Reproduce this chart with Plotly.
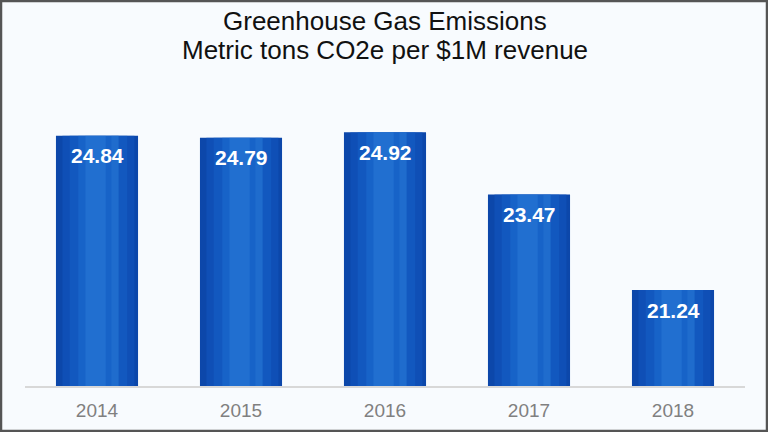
import plotly.graph_objects as go

years = ["2014", "2015", "2016", "2017", "2018"]
emissions = [24.84, 24.79, 24.92, 23.47, 21.24]
labels = ["24.84", "24.79", "24.92", "23.47", "21.24"]

fig = go.Figure()

# base bar, dark blue
fig.add_trace(go.Bar(x=years, y=emissions, width=0.57,
                     marker=dict(color="#0c47aa", line=dict(width=0)),
                     hoverinfo="skip"))
# lighter layers towards the middle to fake the horizontal gradient
layers = [(0.50, -0.24, "rgba(18,85,190,0.6)"),
          (0.40, -0.19, "rgba(22,98,200,0.5)"),
          (0.28, -0.13, "rgba(30,112,210,0.45)"),
          (0.14, -0.08, "rgba(50,130,220,0.4)"),
          (0.05, 0.10, "rgba(50,130,220,0.3)")]
for w, off, col in layers:
    fig.add_trace(go.Bar(x=years, y=emissions, width=w, offset=off,
                         marker=dict(color=col, line=dict(width=0)),
                         hoverinfo="skip"))

# value labels near the top of each bar
# (numeric-looking category names get read as numbers by annotations, so use the index)
for i, (v, lab) in enumerate(zip(emissions, labels)):
    fig.add_annotation(x=i, y=v, text="<b>" + lab + "</b>", showarrow=False,
                       yanchor="middle", yshift=-20,
                       font=dict(family="Liberation Sans", size=21, color="white"))

# two-line title
fig.add_annotation(text="Greenhouse Gas Emissions", xref="paper", yref="paper",
                   x=0.5, y=1 + 65/300, xanchor="center", yanchor="middle",
                   showarrow=False,
                   font=dict(family="Liberation Sans", size=26, color="#111111"))
fig.add_annotation(text="Metric tons CO2e per $1M revenue", xref="paper", yref="paper",
                   x=0.5, y=1 + 36/300, xanchor="center", yanchor="middle",
                   showarrow=False,
                   font=dict(family="Liberation Sans", size=26, color="#111111"))

fig.update_layout(
    width=768, height=432,
    barmode="overlay", showlegend=False,
    paper_bgcolor="#f8fbfe", plot_bgcolor="#f8fbfe",
    margin=dict(l=25, r=23, t=86, b=46),
    xaxis=dict(type="category", range=[-0.5, 4.5], showgrid=False, showline=True,
               linecolor="#d8d8d8", linewidth=2, ticks="", ticklabelstandoff=6,
               tickfont=dict(family="Liberation Sans", size=19, color="#808080")),
    yaxis=dict(range=[19, 26], visible=False, showgrid=False, zeroline=False),
    shapes=[dict(type="rect", xref="paper", yref="paper",
                 x0=-24/720, x1=1+22/720, y0=-45/300, y1=1+85/300,
                 line=dict(color="#555555", width=2.5))],
)

fig.write_html("out.html", config={"displayModeBar": False},
               post_script="document.body.style.margin='0';")
